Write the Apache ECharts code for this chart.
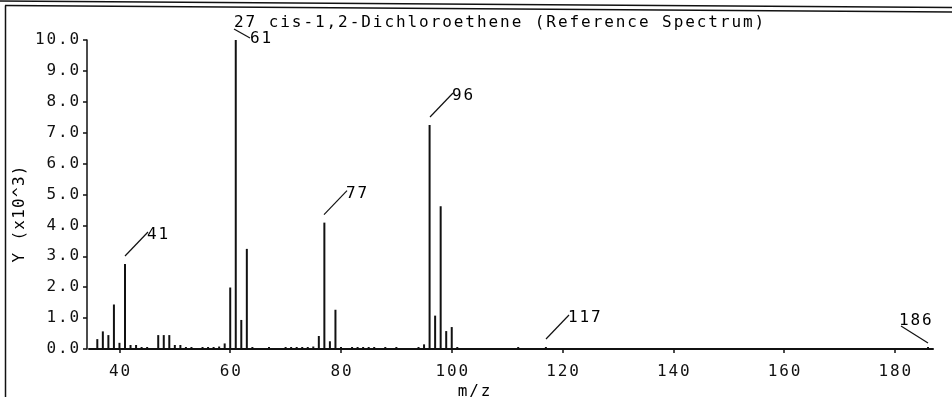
<!DOCTYPE html>
<html><head><meta charset="utf-8">
<script src="https://cdn.jsdelivr.net/npm/echarts@6/dist/echarts.min.js"></script>
<style>html,body{margin:0;padding:0;background:#fff}#c{width:952px;height:397px}</style>
</head><body><div id="c"></div>
<script>
const titleText = '27 cis-1,2-Dichloroethene (Reference Spectrum)';
const xAxisTitle = 'm/z';
const yAxisTitle = 'Y (x10^3)';
const mzValues = [36,37,38,39,40,41,42,43,44,45,47,48,49,50,51,52,53,55,56,57,58,59,60,61,62,63,64,67,70,71,72,73,74,75,76,77,78,79,80,82,83,84,85,86,88,90,94,95,96,97,98,99,100,101,112,117,186];
const intensities = [0.32,0.57,0.45,1.44,0.20,2.75,0.13,0.13,0.05,0.05,0.45,0.45,0.45,0.13,0.13,0.05,0.05,0.05,0.05,0.05,0.08,0.18,1.99,10.0,0.94,3.24,0.04,0.03,0.05,0.05,0.05,0.05,0.05,0.08,0.42,4.09,0.25,1.27,0.06,0.03,0.03,0.03,0.03,0.03,0.03,0.03,0.05,0.15,7.25,1.08,4.62,0.58,0.71,0.04,0.03,0.03,0.03];
const labeledPeaks = [41,61,77,96,117,186];
const xTickValues = [40,60,80,100,120,140,160,180];
const yTickValues = [0,1,2,3,4,5,6,7,8,9,10];

const FONT = 'DejaVu Sans Mono';
const INK = '#111';
function spaced(s){ return String(s).split('').map(ch => '{c|' + ch + '}').join(''); }
function richFor(w){ return { c: { width: w, align: 'center', fontFamily: FONT, fontSize: 16, color: INK } }; }
const richC = richFor(11.5);

const chart = echarts.init(document.getElementById('c'), null, {renderer:'canvas'});
chart.setOption({
  animation: false,
  backgroundColor: '#fff',
  grid: { left: 89, right: 19, top: 40, bottom: 48 },
  xAxis: {
    type: 'value', min: 34.5, max: 186.9, offset: 6,
    axisLine: { show: true, lineStyle: { color: INK, width: 2 } },
    axisTick: { show: true, customValues: xTickValues, length: 4, lineStyle: { color: INK, width: 1.5 } },
    axisLabel: { customValues: xTickValues, margin: 9, formatter: v => spaced(v), rich: richC },
    splitLine: { show: false }
  },
  yAxis: {
    type: 'value', min: 0, max: 10, interval: 1, offset: 2,
    axisLine: { show: true, lineStyle: { color: INK, width: 1.5 } },
    axisTick: { show: true, length: 4, lineStyle: { color: INK, width: 1.5 } },
    axisLabel: { customValues: yTickValues, margin: 7, formatter: v => spaced(Number(v).toFixed(1)), rich: richC },
    splitLine: { show: false }
  },
  series: [
    {
      type: 'bar', silent: true, barWidth: 2, barMinHeight: 2,
      itemStyle: { color: INK },
      data: mzValues.map((m, i) => [m, intensities[i]])
    },
    {
      type: 'custom', silent: true,
      data: labeledPeaks.map(m => [m, intensities[mzValues.indexOf(m)]]),
      renderItem: function (params, api) {
        const m = api.value(0), v = api.value(1);
        const p = api.coord([m, v]);
        const x = Math.round(p[0]);
        const top = Math.min(p[1], api.coord([m, 0])[1] - 2);
        let x1, y1, x2, y2, tx, ty;
        if (top < 60) {
          x1 = x - 2; y1 = top - 11; x2 = x + 14; y2 = top - 2; tx = x2 - 1; ty = y2 + 1;
        } else if (m > 180) {
          x1 = x; y1 = top - 4; x2 = x - 27; y2 = top - 21; tx = x2 - 3; ty = y2 - 5;
        } else {
          x1 = x; y1 = top - 8; x2 = x + 23; y2 = top - 32; tx = x2 - 2; ty = y2 + 3;
        }
        return { type: 'group', children: [
          { type: 'line', shape: { x1: x1, y1: y1, x2: x2, y2: y2 }, style: { stroke: INK, lineWidth: 1.2 } },
          { type: 'text', x: tx, y: ty, style: { text: spaced(m), rich: richC, align: 'left', verticalAlign: 'middle' } }
        ]};
      }
    }
  ],
  graphic: [
    { type: 'line', shape: { x1: 0, y1: 1, x2: 952, y2: 7.5 }, style: { stroke: INK, lineWidth: 1.5 } },
    { type: 'line', shape: { x1: 5, y1: 5.5, x2: 952, y2: 12 }, style: { stroke: INK, lineWidth: 1.5 } },
    { type: 'line', shape: { x1: 5.5, y1: 5.5, x2: 5.5, y2: 397 }, style: { stroke: INK, lineWidth: 1.5 } },
    { type: 'text', x: 459, y: -6, style: { text: spaced(xAxisTitle), rich: richC, align: 'center', verticalAlign: 'middle' } },
    { type: 'text', x: 233, y: 23, style: { text: spaced(titleText), rich: richFor(11.57), align: 'left', verticalAlign: 'middle' } },
    { type: 'text', x: 20, y: 214, rotation: Math.PI / 2, style: { text: spaced(yAxisTitle), rich: richFor(10.9), align: 'center', verticalAlign: 'middle' } },
    { type: 'text', x: 474, y: 392, style: { text: spaced(xAxisTitle), rich: richC, align: 'center', verticalAlign: 'middle' } }
  ]
});
</script>
</body></html>
